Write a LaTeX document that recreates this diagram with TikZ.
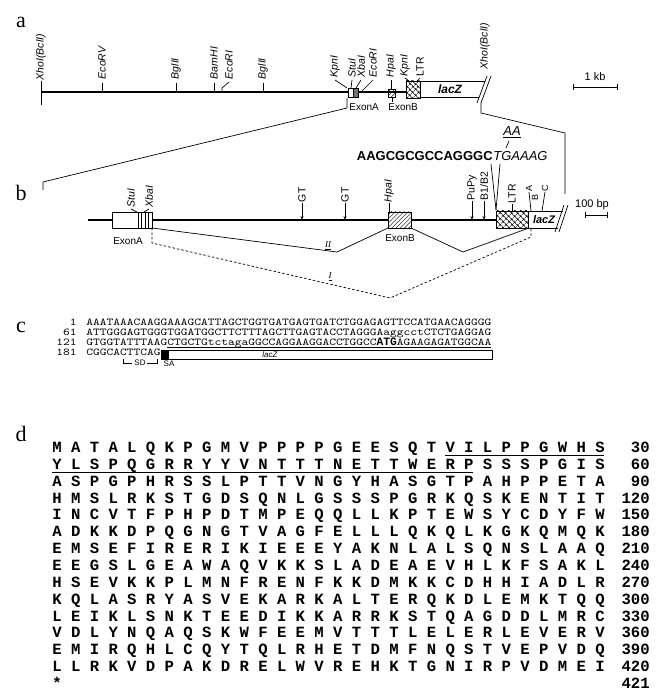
\documentclass[tikz,border=0pt]{standalone}
\usepackage{fontspec}
\setmainfont{Liberation Serif}
\setsansfont{Liberation Sans}
\newfontfamily\aafont{Liberation Mono}
\newfontfamily\ntfont[FakeStretch=1.2245]{lmmono10-regular.otf}
\usetikzlibrary{arrows.meta,patterns.meta}

\begin{document}
\begin{tikzpicture}[
  x=1pt, y=-1pt,
  line width=0.7pt,
  >={Stealth[length=4pt,width=3pt]},
  panel/.style={font=\fontsize{22}{22}\selectfont, inner sep=0pt},
  site/.style={rotate=90, anchor=west, inner sep=0.5pt, font=\sffamily\itshape\fontsize{10.5}{10.5}\selectfont},
  upsite/.style={site, font=\sffamily\fontsize{10.5}{10.5}\selectfont},
  exonlab/.style={font=\sffamily\fontsize{10}{10}\selectfont, inner sep=0pt},
  lacz/.style={font=\sffamily\bfseries\itshape\fontsize{12}{12}\selectfont, inner sep=0pt},
  scalelab/.style={font=\sffamily\fontsize{11}{11}\selectfont, inner sep=0pt},
  dna/.style={line width=1.6pt},
  seqb/.style={font=\sffamily\bfseries\fontsize{13}{13}\selectfont, inner sep=0pt},
  seqi/.style={font=\sffamily\itshape\fontsize{13}{13}\selectfont, inner sep=0pt},
  spl/.style={font=\itshape\fontsize{9}{9}\selectfont, inner sep=0pt},
  nt/.style={font=\ntfont\fontsize{10.5}{10.5}\selectfont, inner sep=0pt, text height=6.5pt, text depth=1pt},
  aa/.style={font=\aafont\bfseries\fontsize{15.6}{15.6}\selectfont, inner sep=0pt},
  ltrbox/.style={draw, pattern={Hatch[angle=45,distance=4pt,line width=0.5pt]}},
  hatchbox/.style={draw, pattern={Lines[angle=45,distance=3pt,line width=0.5pt]}}
]
\useasboundingbox (0,0) rectangle (656,692);

% a: genomic map
\node[panel] (pa) at (21,22) {a};
\coordinate (lineA) at (0,92);
\draw[dna] (41,92) -- (406,92);
\node[site] (xhoL) at (41,81) {XhoI(BclI)};
\draw (xhoL.west) -- (41,105);
\foreach \x/\nm/\t in {102/ecoRV/EcoRV, 176/bglA/BglII, 214/bamH/BamHI, 263/bglB/BglII} {
  \node[site] (\nm) at (\x,80) {\t};
  \draw ([yshift=-3pt]\nm.west) -- (\nm.west |- lineA);
}
\node[site] (ecoRa) at (229,80) {EcoRI};
\draw ([yshift=-2pt]ecoRa.west) -- (222,88) -- (222,92);
\node[site] (kpnA) at (335,78) {KpnI};
\draw ([yshift=-2pt]kpnA.west) -- (347,88);
\node[site] (stu) at (352,78) {StuI};
\draw ([yshift=-2pt]stu.west) -- (351,88);
\node[site] (xba) at (361,78) {XbaI};
\draw ([yshift=-2pt]xba.west) -- (356,88);
\node[site] (ecoRb) at (373,78) {EcoRI};
\draw ([yshift=-2pt]ecoRb.west) -- (362,91);
\node[site] (hpa) at (391,78) {HpaI};
\draw ([yshift=-2pt]hpa.west) -- (391,89);
\node[site] (kpnB) at (405,77) {KpnI};
\draw ([yshift=-1pt]kpnB.west) -- (409,81);
\node[upsite] (ltrA) at (420,77) {LTR};
\draw ([yshift=-1pt]ltrA.west) -- (417,81);
\draw[fill=white] (348,88) rectangle (353,97);
\draw[fill=black!55] (353,88) rectangle (358,97);
\draw[hatchbox] (388,89) rectangle (395,97);
\draw[ltrbox] (406,81) rectangle (420,98);
\draw (420,81) -- (485,81);
\draw (420,97) -- (479,97);
\node[lacz] (lacA) at (450,89) {lacZ};
\draw (477,103) -- (487,76);
\draw (481,103) -- (491,76);
\node[site] (xhoR) at (485,70) {XhoI(BclI)};
\node[exonlab, anchor=west] (exA) at (349,107) {ExonA};
\node[exonlab, anchor=west] (exB) at (388,107) {ExonB};
\draw (392,97) -- (392,102);
\node[scalelab] (kb) at (595,77) {1 kb};
\draw (573,87) -- (617,87);
\draw (573,84) -- (573,90);
\draw (617,84) -- (617,90);
% expansion a -> b
\draw (43,190) -- (43,182) -- (347,108) -- (347,98);
\draw (481,103) -- (481,113) -- (565,133) -- (565,194);

% b: exon A to lacZ
\node[panel] (pb) at (21,193) {b};
\coordinate (lineB) at (0,220);
\draw[dna] (88,220) -- (112,220);
\draw[dna] (152,220) -- (388,220);
\draw[dna] (411,220) -- (496,220);
\draw[fill=white] (112,212) rectangle (138,228);
\draw (138,212) rectangle (152,228);
\foreach \x in {141.5,145,148.5}
  \draw[line width=0.5pt] (\x,212) -- (\x,228);
\node[site] (stuB) at (131,208) {StuI};
\draw ([yshift=-1pt]stuB.west) -- (137,212);
\node[site] (xbaB) at (149,208) {XbaI};
\draw ([yshift=-1pt]xbaB.west) -- (144,212);
\node[exonlab] (exAb) at (128,241) {ExonA};
\foreach \x/\nm in {302/gtA, 345/gtB} {
  \node[upsite] (\nm) at (\x,203) {GT};
  \draw[->] (\nm.west) -- (\nm.west |- lineB);
}
\node[site] (hpaB) at (389,203) {HpaI};
\draw (hpaB.west) -- (389,212);
\draw[hatchbox] (388,212) rectangle (411,228);
\node[exonlab] (exBb) at (400,238) {ExonB};
\node[upsite] (pupy) at (472,201) {PuPy};
\draw[->] (pupy.west) -- (pupy.west |- lineB);
\node[upsite] (bb) at (484,201) {B1/B2};
\draw[->] (bb.west) -- (bb.west |- lineB);
\draw[ltrbox] (496,211) rectangle (528,228);
\draw (528,211) -- (563,211);
\draw (528,228) -- (558,228);
\node[lacz, font=\sffamily\bfseries\itshape\fontsize{11}{11}\selectfont] (lacB) at (544,220) {lacZ};
\draw (555,232) -- (564,205);
\draw (559,232) -- (568,205);
\node[upsite] (ltrB) at (512,204) {LTR};
\draw (ltrB.west) -- (512,211);
\node[upsite, font=\sffamily\fontsize{9}{9}\selectfont] (pA) at (529,192) {A};
\draw (pA.west) -- (531,211);
\node[upsite, font=\sffamily\fontsize{9}{9}\selectfont] (pB) at (535,201) {B};
\node[upsite, font=\sffamily\fontsize{9}{9}\selectfont] (pC) at (545,192) {C};
\draw (pC.west) -- (542,211);
\node[scalelab] (bp) at (592,205) {100 bp};
\draw (585,215) -- (607,215);
\draw (585,212) -- (585,218);
\draw (607,212) -- (607,218);
\node[seqb, anchor=base east] (seqL) at (493,161) {AAGCGCGCCAGGGC};
\node[seqi, anchor=base west] (seqR) at (seqL.base east) {TGAAAG};
\node[seqi] (ins) at (512,132) {\underline{AA}};
\draw (509,141) -- (506,148);
\draw (491,164) -- (496,210);
\draw (500,164) -- (496,210);
% splice products
\draw (152,228) -- (337,252) -- (388,228);
\draw (411,228) -- (463,252) -- (529,228);
\draw[dash pattern=on 2.5pt off 2pt] (152,228) -- (152,243) -- (390,298) -- (531,237) -- (531,228);
\node[spl] (sII) at (328,246) {\underline{II}};
\node[spl] (sI) at (330,277) {\underline{I}};

% c: nucleotide sequence
\node[panel] (pc) at (21,327) {c};
\foreach \n/\s [count=\r] in {
  1/AAATAAACAAGGAAAGCATTAGCTGGTGATGAGTGATCTGGAGAGTTCCATGAACAGGGG,
  61/ATTGGGAGTGGGTGGATGGCTTCTTTAGCTTGAGTACCTAGGGAaggcctCTCTGAGGAG,
  121/GTGGTATTTAAGCTGCTGtctagaGGCCAGGAAGGACCTGGCC{\aafont\bfseries\fontsize{11.25}{11.25}\selectfont ATG}AGAAGAGATGGCAA,
  181/CGGCACTTCAG} {
  \node[nt, anchor=base east] (cn\r) at (77,{325+10*(\r-1)}) {\n};
  \node[nt, anchor=base west] (cs\r) at (86,{325+10*(\r-1)}) {\s};
}
\draw[line width=0.6pt] (167,347.5) -- (491,347.5);
\draw[fill=black] (161,350) rectangle (168,359);
\draw (168,350) rectangle (492,359);
\node[font=\sffamily\itshape\fontsize{8}{8}\selectfont, inner sep=0pt] (lacC) at (270,355) {lacZ};
\draw (123,359) -- (123,363) -- (132,363);
\draw (147,363) -- (157,363) -- (157,359);
\node[font=\sffamily\fontsize{8}{8}\selectfont, inner sep=0pt] (sd) at (140,363) {SD};
\node[font=\sffamily\fontsize{8}{8}\selectfont, inner sep=0pt] (sa) at (169,364) {SA};

% d: protein sequence
\node[panel] (pd) at (21,434) {d};
\foreach \s [count=\r] in {
  M A T A L Q K P G M V P P P P G E E S Q T V I L P P G W H S,
  Y L S P Q G R R Y Y V N T T T N E T T W E R P S S S P G I S,
  A S P G P H R S S L P T T V N G Y H A S G T P A H P P E T A,
  H M S L R K S T G D S Q N L G S S S P G R K Q S K E N T I T,
  I N C V T F P H P D T M P E Q Q L L K P T E W S Y C D Y F W,
  A D K K D P Q G N G T V A G F E L L L Q K Q L K G K Q M Q K,
  E M S E F I R E R I K I E E E Y A K N L A L S Q N S L A A Q,
  E E G S L G E A W A Q V K K S L A D E A E V H L K F S A K L,
  H S E V K K P L M N F R E N F K K D M K K C D H H I A D L R,
  K Q L A S R Y A S V E K A R K A L T E R Q K D L E M K T Q Q,
  L E I K L S N K T E E D I K K A R R K S T Q A G D D L M R C,
  V D L Y N Q A Q S K W F E E M V T T T L E L E R L E V E R V,
  E M I R Q H L C Q Y T Q L R H E T D M F N Q S T V E P V D Q,
  L L R K V D P A K D R E L W V R E H K T G N I R P V D M E I,
  *}
  \node[aa, anchor=base west] (row\r) at (52,{452.5+16.86*(\r-1)}) {\s};
\foreach \n [count=\r] in {30,60,90,120,150,180,210,240,270,300,330,360,390,420,421}
  \node[aa, anchor=base east] (num\r) at (650,{452.5+16.86*(\r-1)}) {\n};
\draw[line width=0.8pt] (445,455.5) -- (604,455.5);
\draw[line width=0.8pt] (52,472.4) -- (473,472.4);
\end{tikzpicture}
\end{document}
